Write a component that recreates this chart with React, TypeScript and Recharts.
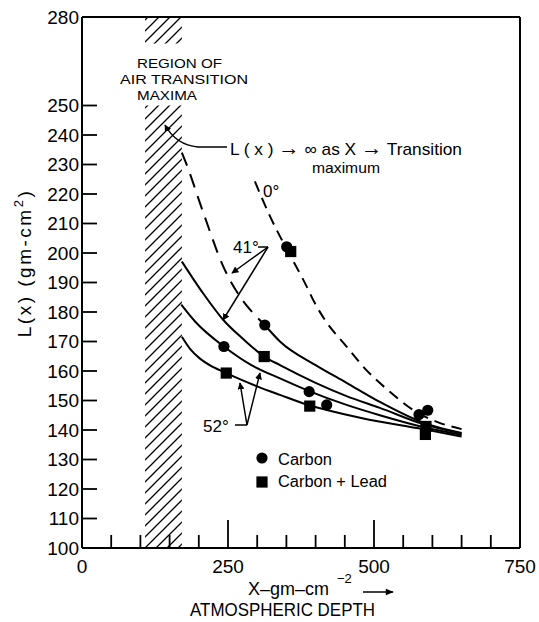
import React from 'react';
import { ComposedChart, Line, Scatter, XAxis, YAxis, ReferenceArea, ReferenceLine } from 'recharts';

const W = 539;
const H = 622;
const MARGIN = { top: 17, right: 19, bottom: 0, left: 0 };
const Y_AXIS_W = 82;
const X_AXIS_H = 74;
const AXIS_X = MARGIN.left + Y_AXIS_W;
const AXIS_Y = H - MARGIN.bottom - X_AXIS_H;
const FONT = "'Liberation Sans', Arial, Helvetica, sans-serif";

const xTicks = [0, 50, 100, 150, 200, 250, 300, 350, 400, 450, 500, 550, 600, 650, 700, 750];
const xTickLabels = [0, 250, 500, 750];
const xLongTicks = [250, 500];
const yTicks = [100, 110, 120, 130, 140, 150, 160, 170, 180, 190, 200, 210, 220, 230, 240, 250, 280];

const hatchX = [108, 171];
const hatchBands = [[100, 250], [271, 280]];

// 0 deg (dashed)
const curve0 = [
  { x: 296, y: 224.3 }, { x: 322, y: 212.4 }, { x: 350, y: 201.5 }, { x: 379, y: 190.9 },
  { x: 402, y: 181.8 }, { x: 416, y: 177.3 }, { x: 453, y: 168.3 }, { x: 487, y: 160.3 },
  { x: 527, y: 153 }, { x: 567, y: 146.8 }, { x: 610, y: 142.6 }, { x: 650, y: 140.3 },
];
// 41 deg carbon: dashed part, then solid part
const curve41Dashed = [
  { x: 171, y: 234 }, { x: 176, y: 231.6 }, { x: 208, y: 213.5 }, { x: 242, y: 195.4 },
  { x: 273, y: 184.5 }, { x: 296, y: 179 }, { x: 313, y: 175.6 },
];
const curve41Solid = [
  { x: 313, y: 175.6 }, { x: 339, y: 170 }, { x: 400, y: 162 }, { x: 453, y: 156 },
  { x: 510, y: 149.5 }, { x: 584, y: 142.5 }, { x: 650, y: 139 },
];
// 41 deg carbon + lead
const curve41Lead = [
  { x: 171, y: 197.1 }, { x: 205, y: 187 }, { x: 242, y: 177.3 }, { x: 275, y: 171 },
  { x: 312, y: 164.9 }, { x: 339, y: 162 }, { x: 400, y: 156 }, { x: 453, y: 151.5 },
  { x: 510, y: 147.5 }, { x: 584, y: 142 }, { x: 650, y: 138.8 },
];
// 52 deg carbon
const curve52Carbon = [
  { x: 170, y: 182.5 }, { x: 194, y: 176.7 }, { x: 243, y: 168.3 }, { x: 290, y: 162 },
  { x: 339, y: 157.5 }, { x: 389, y: 153.2 }, { x: 453, y: 148.5 }, { x: 510, y: 145 },
  { x: 584, y: 141 }, { x: 650, y: 138.3 },
];
// 52 deg carbon + lead
const curve52Lead = [
  { x: 171, y: 171.6 }, { x: 185, y: 167.5 }, { x: 202, y: 164.2 }, { x: 225, y: 161.3 },
  { x: 247, y: 159.3 }, { x: 300, y: 154.8 }, { x: 339, y: 151.9 }, { x: 390, y: 148.3 },
  { x: 419, y: 146.8 }, { x: 480, y: 144 }, { x: 584, y: 140.3 }, { x: 650, y: 137.8 },
];

const carbonPts = [
  { x: 350.5, y: 202.1 }, { x: 313, y: 175.6 }, { x: 243, y: 168.3 }, { x: 389, y: 153 },
  { x: 419, y: 148.5 }, { x: 577, y: 145.2 }, { x: 592, y: 146.7 },
];
const leadPts = [
  { x: 357.4, y: 200.5 }, { x: 312, y: 164.9 }, { x: 247, y: 159.3 }, { x: 390, y: 148.1 },
  { x: 589, y: 141.2 }, { x: 588, y: 138.5 },
];

const YTick = (props: any) => {
  const { y, payload } = props;
  const v = payload.value;
  return (
    <g>
      {v !== 280 && <line x1={AXIS_X} x2={AXIS_X + 15} y1={y} y2={y} stroke="#000" strokeWidth={1.8} />}
      <text x={AXIS_X - 3} y={y} dy="0.36em" textAnchor="end" fontSize={19} fontFamily={FONT} fill="#000">{v}</text>
    </g>
  );
};

const XTick = (props: any) => {
  const { x, payload } = props;
  const v = payload.value;
  const len = xLongTicks.includes(v) ? 28 : 13;
  return (
    <g>
      {v !== 0 && v !== 750 && <line x1={x} x2={x} y1={AXIS_Y} y2={AXIS_Y - len} stroke="#000" strokeWidth={1.8} />}
      {xTickLabels.includes(v) && (
        <text x={x} y={AXIS_Y + 25} textAnchor="middle" fontSize={19} fontFamily={FONT} fill="#000">{v}</text>
      )}
    </g>
  );
};

const HatchShape = (p: any) => (
  <g>
    <defs>
      <pattern id={`hatch-${Math.round(p.y)}`} patternUnits="userSpaceOnUse" width="11" height="11">
        <path d="M0,11 L11,0 M-2,2 L2,-2 M9,13 L13,9" stroke="#000" strokeWidth={1.3} />
      </pattern>
    </defs>
    <rect x={p.x} y={p.y} width={p.width} height={p.height} fill={`url(#hatch-${Math.round(p.y)})`} stroke="none" />
  </g>
);

const Dot = (p: any) => <circle cx={p.cx} cy={p.cy} r={5.6} fill="#000" />;
const Sq = (p: any) => <rect x={p.cx - 5.6} y={p.cy - 5.6} width={11.2} height={11.2} fill="#000" />;

const Annotations = () => (
  <svg width={W} height={H} style={{ position: 'absolute', left: 0, top: 0, pointerEvents: 'none' }}>
    <defs>
      <marker id="ah" viewBox="0 0 10 10" refX="9" refY="5" markerWidth="7" markerHeight="7" orient="auto" markerUnits="userSpaceOnUse">
        <path d="M0,0 L10,5 L0,10 z" fill="#000" />
      </marker>
      <marker id="ah2" viewBox="0 0 10 10" refX="9" refY="5" markerWidth="10" markerHeight="8" orient="auto" markerUnits="userSpaceOnUse">
        <path d="M0,1 L10,5 L0,9 z" fill="#000" />
      </marker>
    </defs>
    <g fontFamily={FONT} fill="#000">
      {/* Y axis title */}
      <text transform="translate(31,263) rotate(-90)" textAnchor="middle" fontSize={19} letterSpacing={2.5}>
        L(x) (gm-cm<tspan dy={-8} fontSize={13}>2</tspan><tspan dy={8}>)</tspan>
      </text>
      {/* X axis title */}
      <text x={248} y={595} fontSize={18}>X–gm–cm</text>
      <text x={337} y={583} fontSize={13}>−2</text>
      <line x1={363} y1={592} x2={393} y2={592} stroke="#000" strokeWidth={1.5} markerEnd="url(#ah2)" />
      <text x={190} y={616} fontSize={18} textLength={185} lengthAdjust="spacingAndGlyphs">ATMOSPHERIC  DEPTH</text>

      {/* region text */}
      <text x={137} y={68} fontSize={13.5} textLength={85} lengthAdjust="spacingAndGlyphs">REGION  OF</text>
      <text x={120} y={84} fontSize={13.5} textLength={128} lengthAdjust="spacingAndGlyphs">AIR  TRANSITION</text>
      <text x={137} y={100} fontSize={13.5} textLength={60} lengthAdjust="spacingAndGlyphs">MAXIMA</text>

      {/* L(x) -> infinity note */}
      <text x={230} y={155} fontSize={17} textLength={232} lengthAdjust="spacingAndGlyphs">
        L ( x ) <tspan fontWeight="bold" fontSize={21}>→</tspan> ∞ as X <tspan fontWeight="bold" fontSize={21}>→</tspan> Transition
      </text>
      <text x={312} y={173} fontSize={15} textLength={68} lengthAdjust="spacingAndGlyphs">maximum</text>
      <path d="M227,147 L198,147 Q176,145 165,125" fill="none" stroke="#000" strokeWidth={1.5} markerEnd="url(#ah)" />

      {/* angle labels */}
      <text x={263} y={197} fontSize={17}>0°</text>
      <text x={233} y={253} fontSize={17}>41°</text>
      <line x1={258} y1={247} x2={268} y2={247} stroke="#000" strokeWidth={1.5} />
      <line x1={268} y1={247} x2={232} y2={273} stroke="#000" strokeWidth={1.5} markerEnd="url(#ah)" />
      <line x1={268} y1={247} x2={223} y2={320} stroke="#000" strokeWidth={1.5} markerEnd="url(#ah)" />
      <text x={203} y={432} fontSize={17}>52°</text>
      <line x1={235} y1={425} x2={247} y2={425} stroke="#000" strokeWidth={1.5} />
      <line x1={247} y1={425} x2={240} y2={383} stroke="#000" strokeWidth={1.5} markerEnd="url(#ah)" />
      <line x1={247} y1={425} x2={260} y2={373} stroke="#000" strokeWidth={1.5} markerEnd="url(#ah)" />

      {/* legend */}
      <circle cx={262} cy={458} r={5.6} fill="#000" />
      <text x={278} y={465} fontSize={16} textLength={54} lengthAdjust="spacingAndGlyphs">Carbon</text>
      <rect x={256.4} y={476.4} width={11.2} height={11.2} fill="#000" />
      <text x={278} y={487} fontSize={16} textLength={109} lengthAdjust="spacingAndGlyphs">Carbon + Lead</text>
    </g>
  </svg>
);

export default function App() {
  return (
    <div style={{ position: 'absolute', left: 0, top: 0, width: W, height: H, background: '#fff' }}>
      <ComposedChart width={W} height={H} margin={MARGIN}>
        <XAxis
          type="number"
          dataKey="x"
          domain={[0, 750]}
          ticks={xTicks}
          interval={0}
          height={X_AXIS_H}
          tick={<XTick />}
          tickLine={false}
          axisLine={{ stroke: '#000', strokeWidth: 2 }}
          allowDataOverflow
        />
        <YAxis
          type="number"
          dataKey="y"
          domain={[100, 280]}
          ticks={yTicks}
          interval={0}
          width={Y_AXIS_W}
          tick={<YTick />}
          tickLine={false}
          axisLine={{ stroke: '#000', strokeWidth: 2 }}
          allowDataOverflow
        />
        {hatchBands.map((b, i) => (
          <ReferenceArea key={i} x1={hatchX[0]} x2={hatchX[1]} y1={b[0]} y2={b[1]} shape={HatchShape} ifOverflow="visible" />
        ))}
        <ReferenceLine y={280} stroke="#000" strokeWidth={2} />
        <ReferenceLine x={750} stroke="#000" strokeWidth={2} />
        <Line data={curve0} dataKey="y" type="monotone" stroke="#000" strokeWidth={2} strokeDasharray="11 7" dot={false} isAnimationActive={false} />
        <Line data={curve41Dashed} dataKey="y" type="monotone" stroke="#000" strokeWidth={2} strokeDasharray="14 9" dot={false} isAnimationActive={false} />
        <Line data={curve41Solid} dataKey="y" type="monotone" stroke="#000" strokeWidth={2} dot={false} isAnimationActive={false} />
        <Line data={curve41Lead} dataKey="y" type="monotone" stroke="#000" strokeWidth={2} dot={false} isAnimationActive={false} />
        <Line data={curve52Carbon} dataKey="y" type="monotone" stroke="#000" strokeWidth={2} dot={false} isAnimationActive={false} />
        <Line data={curve52Lead} dataKey="y" type="monotone" stroke="#000" strokeWidth={2} dot={false} isAnimationActive={false} />
        <Scatter data={carbonPts} dataKey="y" shape={Dot} isAnimationActive={false} />
        <Scatter data={leadPts} dataKey="y" shape={Sq} isAnimationActive={false} />
      </ComposedChart>
      <Annotations />
    </div>
  );
}
